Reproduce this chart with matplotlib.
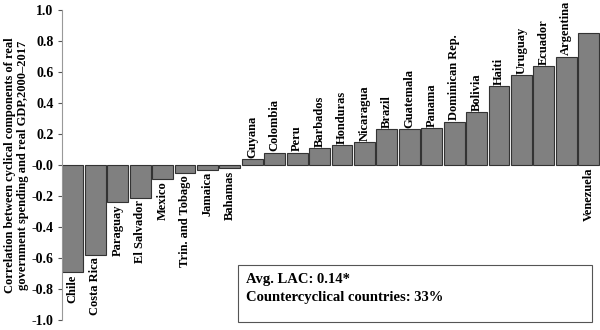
import numpy as np
import matplotlib.pyplot as plt
import matplotlib
from matplotlib.patches import Rectangle

matplotlib.rc('font', family='Liberation Serif', weight='bold', size=10)

countries = ['Chile', 'Costa Rica', 'Paraguay', 'El Salvador', 'Mexico',
             'Trin. and Tobago', 'Jamaica', 'Bahamas', 'Guyana', 'Colombia',
             'Peru', 'Barbados', 'Honduras', 'Nicaragua', 'Brazil',
             'Guatemala', 'Panama', 'Dominican Rep.', 'Bolivia', 'Haiti',
             'Uruguay', 'Ecuador', 'Argentina', 'Venezuela']
corr = [-0.69, -0.58, -0.24, -0.21, -0.09, -0.05, -0.03, -0.02, 0.04, 0.08,
        0.08, 0.11, 0.13, 0.15, 0.23, 0.23, 0.24, 0.28, 0.34, 0.51,
        0.58, 0.64, 0.70, 0.85]
avg_lac = '0.14*'
share_counter = '33%'

fig = plt.figure(figsize=(6, 3.3), dpi=100)
ax = fig.add_axes([62 / 600, 10 / 330, 538 / 600, 310 / 330])

ind = np.arange(len(countries))
ax.bar(ind, corr, 0.93, color='#808080', edgecolor='#333333', linewidth=0.8)
ax.set_xlim(-0.48, len(countries) - 0.5)
ax.set_ylim(-1.0, 1.0)
ax.set_yticks(np.arange(-1.0, 1.01, 0.2))
ax.set_yticklabels(['%.1f' % v for v in np.arange(-1.0, 1.01, 0.2)])
ax.set_xticks([])
for s in ['top', 'right', 'bottom']:
    ax.spines[s].set_visible(False)
ax.spines['left'].set_color('#999999')
ax.tick_params(axis='y', length=3, color='#555555', pad=3)
ax.set_ylabel('Correlation between cyclical components of real\n'
              'government spending and real GDP,2000\u20132017',
              fontsize=9, fontweight='bold', labelpad=2, linespacing=1.05)

# country names above positive bars, below negative ones
for i, (name, v) in enumerate(zip(countries, corr)):
    if v < 0 or name == 'Venezuela':
        y = min(v, 0) - 0.015
        ax.text(i, y, name, rotation=90, ha='center', va='top',
                fontsize=9, clip_on=False)
    else:
        ax.text(i, v + 0.008, name, rotation=90, ha='center', va='bottom',
                fontsize=9, clip_on=False)

fig.patches.append(Rectangle((238 / 600, 8 / 330), 354 / 600, 57 / 330,
                             transform=fig.transFigure, fill=False,
                             edgecolor='#555555', linewidth=0.8))
fig.text(246 / 600, 1 - 283 / 330, 'Avg. LAC: ' + avg_lac, fontsize=10.5)
fig.text(246 / 600, 1 - 301 / 330,
         'Countercyclical countries: ' + share_counter, fontsize=10.5)

plt.savefig('out.png', dpi=100)
